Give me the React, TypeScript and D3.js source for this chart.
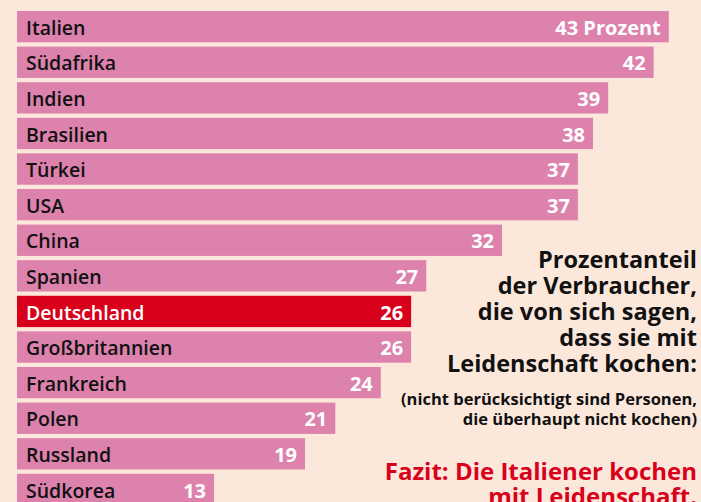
import React from "react";
import * as d3 from "d3";

const countries = ["Italien","Südafrika","Indien","Brasilien","Türkei","USA","China","Spanien","Deutschland","Großbritannien","Frankreich","Polen","Russland","Südkorea"];
const values = [43,42,39,38,37,37,32,27,26,26,24,21,19,13];
const highlight = "Deutschland";
const titleLines = ["Prozentanteil","der Verbraucher,","die von sich sagen,","dass sie mit","Leidenschaft kochen:"];
const noteLines = ["(nicht berücksichtigt sind Personen,","die überhaupt nicht kochen)"];
const fazitLines = ["Fazit: Die Italiener kochen","mit Leidenschaft."];

const W = 701, H = 502;
const BG = "#fce8db";
const PINK = "#dc82ad";
const RED = "#d9001b";
const FONT = "'Open Sans', Roboto, sans-serif";

export default function App() {
  const x = d3.scaleLinear().domain([0, 43]).range([17, 668.8]);
  const y = d3.scaleBand<string>().domain(countries).range([11, 505.1]).paddingInner(0.12).paddingOuter(0);
  const bw = y.bandwidth();
  return (
    <div style={{ position: "fixed", left: 0, top: 0, width: W, height: H, background: BG }}>
      <svg width={W} height={H} style={{ display: "block" }}>
        <rect x={0} y={0} width={W} height={H} fill={BG} />
        {countries.map((c, i) => {
          const v = values[i];
          const yy = y(c)!;
          const hl = c === highlight;
          return (
            <g key={c}>
              <rect x={x(0)} y={yy} width={x(v) - x(0)} height={bw} fill={hl ? RED : PINK} />
              <text x={26} y={yy + 23.8} fontFamily={FONT} fontWeight={600} fontSize={19.5} fill={hl ? "#fff" : "#111"}>{c}</text>
              <text x={x(v) - 8} y={yy + 23.8} textAnchor="end" fontFamily={FONT} fontWeight={700} fontSize={20} fill="#fff">{i === 0 ? `${v} Prozent` : v}</text>
            </g>
          );
        })}
        {titleLines.map((t, i) => (
          <text key={t} x={697} y={267.5 + i * 26.2} textAnchor="end" fontFamily={FONT} fontWeight={700} fontSize={23.5} fill="#111">{t}</text>
        ))}
        {noteLines.map((t, i) => (
          <text key={t} x={697} y={405 + i * 20} textAnchor="end" fontFamily={FONT} fontWeight={700} fontSize={16.5} fill="#111">{t}</text>
        ))}
        {fazitLines.map((t, i) => (
          <text key={t} x={697} y={479.5 + i * 25} textAnchor="end" fontFamily={FONT} fontWeight={700} fontSize={24} fill={RED}>{t}</text>
        ))}
      </svg>
    </div>
  );
}
